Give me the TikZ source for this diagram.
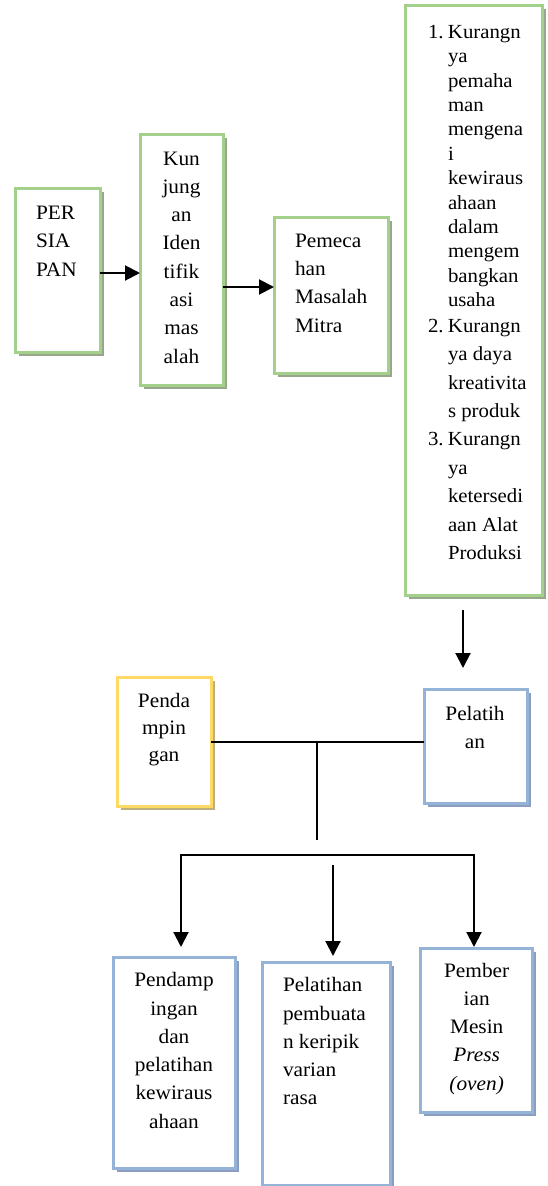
\documentclass[tikz,border=0pt]{standalone}
\usepackage{fontspec}
\setmainfont{Liberation Serif}[FakeStretch=1.04]
\usetikzlibrary{arrows.meta,shadows,calc}
\definecolor{gborder}{HTML}{A3D18B}
\definecolor{gshadow}{HTML}{98A68C}
\definecolor{yborder}{HTML}{FFD966}
\definecolor{yshadow}{HTML}{BFAF7F}
\definecolor{bborder}{HTML}{95B3D7}
\definecolor{bshadow}{HTML}{8C9EC0}
\newcommand\litem[1]{\makebox[20pt][l]{#1}}
\newcommand\lind{\hspace*{20pt}}
\begin{document}
\begin{tikzpicture}[x=1pt,y=-1pt,
  box/.style={draw, line width=3pt, fill=white, outer sep=0pt, inner sep=0pt, anchor=north west},
  gbox/.style={box, draw=gborder, drop shadow={shadow xshift=4pt, shadow yshift=-4pt, fill=gshadow, opacity=1}},
  ybox/.style={box, draw=yborder, drop shadow={shadow xshift=4pt, shadow yshift=-4pt, fill=yshadow, opacity=1}},
  bbox/.style={box, draw=bborder, drop shadow={shadow xshift=4pt, shadow yshift=-4pt, fill=bshadow, opacity=1}},
  txt/.style={inner sep=0pt, outer sep=0pt, font=\fontsize{20.5}{28.3}\selectfont},
  ln/.style={draw=black, line width=2pt},
  arr/.style={ln, -{Triangle[length=15pt,width=15pt]}}
]
\useasboundingbox (0,0) rectangle (547,1186);

% boxes
\node[gbox, minimum width=85pt, minimum height=164pt] (b1) at (15,188) {};
\node[gbox, minimum width=83pt, minimum height=251pt] (b2) at (140,134) {};
\node[gbox, minimum width=114pt, minimum height=156pt] (b3) at (274,217) {};
\node[gbox, minimum width=137pt, minimum height=590pt] (b4) at (405,5) {};
\node[ybox, minimum width=94pt, minimum height=129pt] (b5) at (117,677) {};
\node[bbox, minimum width=103pt, minimum height=114pt] (b6) at (424,689) {};
\node[bbox, minimum width=122pt, minimum height=211pt] (b7) at (113,957) {};
\node[bbox, minimum width=128pt, minimum height=223pt] (b8) at (262,962) {};
\node[bbox, minimum width=112pt, minimum height=164pt] (b9) at (420,948) {};

% texts
\node[txt, anchor=base west] (t1) at (36,219.5) {\parbox[t]{60pt}{\raggedright PER\\SIA\\PAN}};
\node[txt, anchor=base] (t2) at (181.5,165) {\parbox[t]{80pt}{\centering Kun\\jung\\an\\Iden\\tifik\\asi\\mas\\alah}};
\node[txt, anchor=base west] (t3) at (295,247.3) {\parbox[t]{90pt}{\raggedright Pemeca\\han\\Masalah\\Mitra}};
\node[txt, anchor=base west, font=\fontsize{20}{24.4}\selectfont] (t4) at (428,38.3) {\parbox[t]{112pt}{\raggedright
\litem{1.}Kurangn\\
\lind ya\\
\lind pemaha\\
\lind man\\
\lind mengena\\
\lind i\\
\lind kewiraus\\
\lind ahaan\\
\lind dalam\\
\lind mengem\\
\lind bangkan\\
\lind usaha\\[1.1pt]
\litem{2.}Kurangn\\[4pt]
\lind ya daya\\[4pt]
\lind kreativita\\[4pt]
\lind s produk\\[4pt]
\litem{3.}Kurangn\\[4pt]
\lind ya\\[4pt]
\lind ketersedi\\[4pt]
\lind aan Alat\\[4pt]
\lind Produksi}};
\node[txt, anchor=base, font=\fontsize{20.5}{27}\selectfont] (t5) at (164,707.7) {\parbox[t]{90pt}{\centering Penda\\mpin\\gan}};
\node[txt, anchor=base, font=\fontsize{20.5}{28}\selectfont] (t6) at (475,720) {\parbox[t]{100pt}{\centering Pelatih\\an}};
\node[txt, anchor=base] (t7) at (174,986.7) {\parbox[t]{118pt}{\centering Pendamp\\ingan\\dan\\pelatihan\\kewiraus\\ahaan}};
\node[txt, anchor=base west] (t8) at (283,991.7) {\parbox[t]{104pt}{\raggedright Pelatihan\\pembuata\\n keripik\\varian\\rasa}};
\node[txt, anchor=base] (t9) at (476.7,977) {\parbox[t]{108pt}{\centering Pember\\ian\\Mesin\\\textit{Press}\\\textit{(oven)}}};

% connectors
\coordinate (r1) at (0,273);
\coordinate (r2) at (0,287);
\draw[arr] (b1.east |- r1) -- (b2.west |- r1);
\draw[arr] (b2.east |- r2) -- (b3.west |- r2);

\coordinate (c1) at (463,0);
\draw[arr, shorten <=15pt, shorten >=21pt] (b4.south -| c1) -- (b6.north -| c1);

\coordinate (h1) at (0,742);
\draw[ln] (b5.east |- h1) -- (b6.west |- h1);
\coordinate (j1) at (317,742);
\coordinate (j2) at (317,840);
\draw[ln] (j1) -- (j2);

\coordinate (bl) at (181,855);
\coordinate (br) at (474,855);
\draw[ln, {Triangle[length=15pt,width=15pt]}-{Triangle[length=15pt,width=15pt]}, shorten <=10pt, shorten >=1pt]
  (bl |- b7.north) -- (bl) -- (br) -- (br |- b9.north);

\coordinate (m1) at (333,865);
\draw[arr, shorten >=6pt] (m1) -- (m1 |- b8.north);
\end{tikzpicture}
\end{document}
